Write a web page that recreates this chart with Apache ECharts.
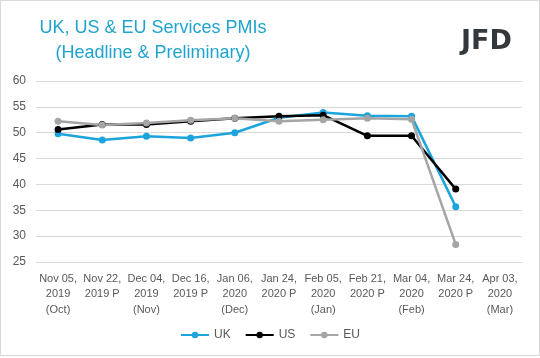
<!DOCTYPE html>
<html><head><meta charset="utf-8">
<script src="https://cdn.jsdelivr.net/npm/echarts@6/dist/echarts.min.js"></script>
<style>
html,body{margin:0;padding:0;background:#fff;}
#c{position:absolute;left:0;top:0;width:538px;height:354px;border:1px solid #d9d9d9;}
</style></head>
<body><div id="c"></div>
<script>
const categories = ["Nov 05,\n2019\n(Oct)","Nov 22,\n2019 P","Dec 04,\n2019\n(Nov)","Dec 16,\n2019 P","Jan 06,\n2020\n(Dec)","Jan 24,\n2020 P","Feb 05,\n2020\n(Jan)","Feb 21,\n2020 P","Mar 04,\n2020\n(Feb)","Mar 24,\n2020 P","Apr 03,\n2020\n(Mar)"];
const ukValues = [49.8, 48.6, 49.3, 49.0, 50.0, 52.9, 53.9, 53.3, 53.2, 35.7, null];
const usValues = [50.6, 51.6, 51.6, 52.2, 52.8, 53.2, 53.4, 49.4, 49.4, 39.1, null];
const euValues = [52.2, 51.5, 51.9, 52.4, 52.8, 52.2, 52.5, 52.8, 52.6, 28.4, null];
const yTicks = {min: 25, max: 60, interval: 5};

const chart = echarts.init(document.getElementById('c'), null, {renderer: 'canvas'});
const font = 'Liberation Sans';
function ser(name, data, color) {
  return {name, type: 'line', data, symbol: 'circle', symbolSize: 7,
    lineStyle: {color, width: 2.5}, itemStyle: {color}, connectNulls: false};
}
chart.setOption({
  animation: false,
  textStyle: {fontFamily: font},
  title: [{
    text: 'UK, US & EU Services PMIs\n(Headline & Preliminary)',
    left: 147, top: 10, textAlign: 'center',
    textStyle: {color: '#20a4cf', fontSize: 18, fontWeight: 'normal', lineHeight: 25, fontFamily: font}
  }, {
    text: 'JFD', left: 455, top: 22,
    textStyle: {color: '#33383d', fontSize: 27, fontWeight: 'bold', fontFamily: 'DejaVu Sans'}
  }],
  grid: {left: 35, right: 17, top: 80, bottom: 93, containLabel: false},
  legend: {
    bottom: 9, left: 'center', itemWidth: 28, itemHeight: 8, itemGap: 14,
    textStyle: {color: '#595959', fontSize: 12, fontFamily: font},
    data: ['UK', 'US', 'EU']
  },
  xAxis: {
    type: 'category', data: categories, boundaryGap: true,
    axisLine: {show: false}, axisTick: {show: false},
    axisLabel: {color: '#595959', fontSize: 11, lineHeight: 15.5, interval: 0, margin: 9, fontFamily: font}
  },
  yAxis: {
    type: 'value', min: yTicks.min, max: yTicks.max, interval: yTicks.interval,
    axisLine: {show: false}, axisTick: {show: false},
    axisLabel: {color: '#595959', fontSize: 12, margin: 10, fontFamily: font},
    splitLine: {lineStyle: {color: '#d9d9d9', width: 1}}
  },
  series: [ser('UK', ukValues, '#1ca4dc'), ser('US', usValues, '#000000'), ser('EU', euValues, '#a5a5a5')]
});
</script></body></html>
